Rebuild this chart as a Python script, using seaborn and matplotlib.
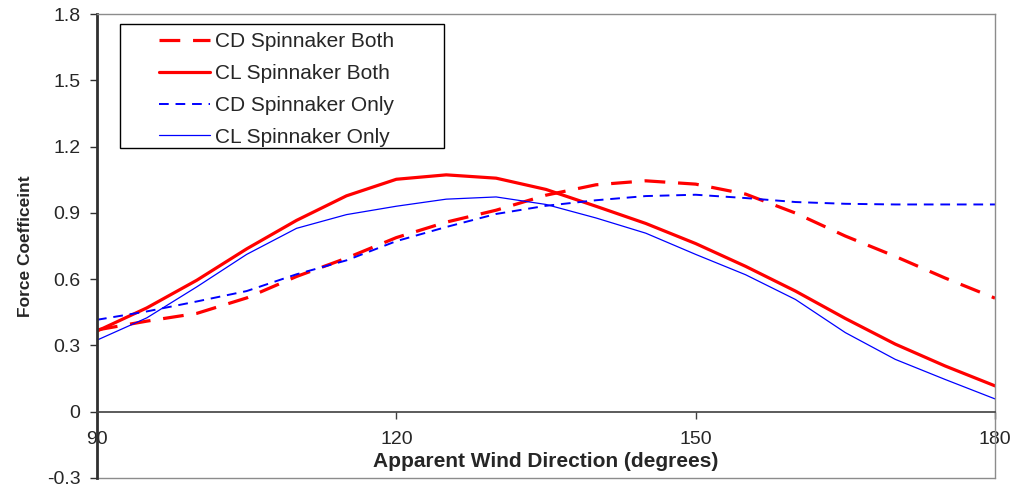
import matplotlib
matplotlib.use("Agg")
import matplotlib.pyplot as plt
from matplotlib.patches import Rectangle
import seaborn as sns
import pandas as pd

# ---- data ----
angles = [90, 95, 100, 105, 110, 115, 120, 125, 130, 135, 140, 145, 150, 155, 160, 165, 170, 175, 180]
cd_both = [0.37, 0.41, 0.445, 0.515, 0.612, 0.695, 0.788, 0.858, 0.912, 0.980, 1.027, 1.045, 1.030, 0.985, 0.899, 0.795, 0.703, 0.605, 0.514]
cl_both = [0.365, 0.47, 0.595, 0.737, 0.866, 0.977, 1.052, 1.072, 1.057, 1.006, 0.930, 0.852, 0.761, 0.658, 0.546, 0.422, 0.306, 0.207, 0.117]
cd_only = [0.416, 0.454, 0.499, 0.546, 0.622, 0.685, 0.772, 0.836, 0.895, 0.932, 0.957, 0.976, 0.982, 0.967, 0.949, 0.941, 0.938, 0.938, 0.938]
cl_only = [0.324, 0.425, 0.565, 0.712, 0.830, 0.892, 0.930, 0.962, 0.972, 0.938, 0.877, 0.808, 0.712, 0.620, 0.508, 0.358, 0.237, 0.146, 0.058]
series_names = ["CD Spinnaker Both", "CL Spinnaker Both", "CD Spinnaker Only", "CL Spinnaker Only"]
x_ticks = [90, 120, 150, 180]
y_ticks = [-0.3, 0, 0.3, 0.6, 0.9, 1.2, 1.5, 1.8]
y_tick_labels = ["-0.3", "0", "0.3", "0.6", "0.9", "1.2", "1.5", "1.8"]

sns.set_style("white")
plt.rcParams["font.family"] = ["Liberation Sans", "DejaVu Sans"]

W, H = 1017, 488
fig = plt.figure(figsize=(W / 100, H / 100), dpi=100)
ax = fig.add_axes([97 / W, (H - 478) / H, (995 - 97) / W, (478 - 14) / H])

styles = [
    dict(color="#ff0000", lw=2.3, dashes=(6.5, 4.0)),
    dict(color="#ff0000", lw=2.3, dashes=None),
    dict(color="#0000ff", lw=1.4, dashes=(5.0, 3.5)),
    dict(color="#0000ff", lw=0.9, dashes=None),
]
values = [cd_both, cl_both, cd_only, cl_only]
handles = []
for name, vals, st in zip(series_names, values, styles):
    df = pd.DataFrame({"x": angles, "y": vals})
    sns.lineplot(data=df, x="x", y="y", ax=ax, color=st["color"], linewidth=st["lw"],
                 errorbar=None, estimator=None, sort=False)
    ln = ax.lines[-1]
    if st["dashes"] is not None:
        ln.set_dashes(st["dashes"])
    ln.set_label(name)
    handles.append(ln)

ax.set_xlim(90, 180)
ax.set_ylim(-0.3, 1.8)
ax.set_xticks(x_ticks)
ax.set_xticklabels([str(t) for t in x_ticks])
ax.set_yticks(y_ticks)
ax.set_yticklabels(y_tick_labels)

# spines
ax.spines["bottom"].set_position(("data", 0))
ax.spines["bottom"].set_color("#404040")
ax.spines["bottom"].set_linewidth(1.2)
ax.spines["left"].set_color("#303030")
ax.spines["left"].set_linewidth(2.0)
for s in ["top", "right"]:
    ax.spines[s].set_visible(True)
    ax.spines[s].set_color("#8c8c8c")
    ax.spines[s].set_linewidth(1.0)
ax.add_line(plt.Line2D([0, 1], [0, 0], transform=ax.transAxes, color="#8c8c8c", lw=1.0, clip_on=False))

ax.tick_params(axis="x", direction="out", length=5, width=1, color="#404040", pad=9,
               labelsize=14, bottom=True)
ax.tick_params(axis="y", direction="out", length=5, width=1, color="#303030", pad=7,
               labelsize=14, left=True)

ax.set_xlabel("Apparent Wind Direction (degrees)", fontsize=15, fontweight="bold", labelpad=3)
ax.set_ylabel("Force Coefficeint", fontsize=12.5, fontweight="bold", labelpad=10)

# legend frame
rx0, rx1 = 120, 444
ry0, ry1 = 23.5, 148
ax.add_patch(Rectangle(((rx0 - 97) / 898, (478 - ry1) / 464), (rx1 - rx0) / 898, (ry1 - ry0) / 464,
                       transform=ax.transAxes, fill=True, facecolor="white", edgecolor="black",
                       lw=1.0, zorder=5))
leg = ax.legend(handles=handles, loc="upper left",
                bbox_to_anchor=((159 - 97) / 898, (478 - 32) / 464),
                frameon=False, fontsize=15, borderpad=0, borderaxespad=0,
                handlelength=2.45, handletextpad=0.25, labelspacing=0.62)
leg.set_zorder(6)

fig.savefig("out.png", dpi=100)
